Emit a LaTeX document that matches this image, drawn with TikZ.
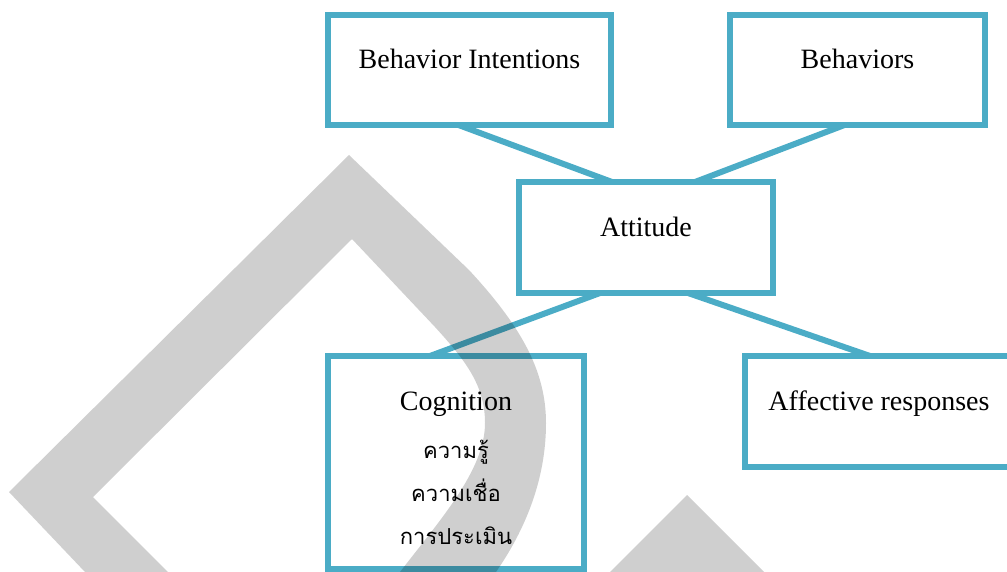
\documentclass[tikz,border=0pt]{standalone}
\usepackage{fontspec}
\setmainfont{Liberation Serif}
\newfontfamily\thaifont[Script=Thai]{Loma}
\definecolor{frameteal}{HTML}{4BACC6}
\tikzset{
    box/.style={draw=frameteal, line width=6pt, rectangle, outer sep=0pt, minimum height=110pt}, % the frames
    link/.style={draw=frameteal, line width=6pt}, % the lines between frames
    word/.style={font=\fontsize{28}{30}\selectfont, anchor=base, inner sep=0pt},
    thaiword/.style={font=\fontsize{22}{24}\thaifont, anchor=base, inner sep=0pt},
    wmark/.style={fill=black, fill opacity=0.19}, % grey watermark on top
}

\begin{document}
\begin{tikzpicture}[x=1pt, y=-1pt]
    \useasboundingbox (0,0) rectangle (1007,572);
    \clip (0,0) rectangle (1007,572);

    \node[box, minimum width=283pt] (bi)  at (469.5,70)  {};
    \node[box, minimum width=255pt] (beh) at (857.5,70)  {};
    \node[box, minimum width=254pt, minimum height=111pt] (att) at (646,237.5) {};
    \node[box, minimum width=256pt, minimum height=213pt] (cog) at (456,462.5) {};
    \node[box, minimum width=268pt, minimum height=111pt] (aff) at (879,411.5) {};

    \node[word] (bi-t)  at ([yshift=-54pt]bi.north)  {Behavior Intentions};
    \node[word] (beh-t) at ([yshift=-54pt]beh.north) {Behaviors};
    \node[word] (att-t) at ([yshift=-55pt]att.north) {Attitude};
    \node[word] (cog-t) at ([yshift=-54pt]cog.north) {Cognition};
    \node[word] (aff-t) at ([yshift=-54pt]aff.north) {Affective responses};
    \node[thaiword] (cog-a) at ([yshift=-102pt]cog.north) {ความรู้};
    \node[thaiword] (cog-b) at ([yshift=-145pt]cog.north) {ความเชื่อ};
    \node[thaiword] (cog-c) at ([yshift=-188pt]cog.north) {การประเมิน};

    \draw[link] ([xshift=-11pt]bi.south)  -- ([xshift=-34pt]att.north);
    \draw[link] ([xshift=-13pt]beh.south) -- ([xshift=49pt]att.north);
    \draw[link] ([xshift=-46pt]att.south) -- ([xshift=-26pt]cog.north);
    \draw[link] ([xshift=42pt]att.south)  -- ([xshift=-9pt]aff.north);

    % watermark
    \fill[wmark] (85,572) -- (9,492) -- (349,155) -- (469,270)
        .. controls (520,325) and (546,370) .. (546,423)
        .. controls (546,480) and (525,530) .. (496,572) -- (400,572)
        .. controls (440,520) and (485,470) .. (485,423)
        .. controls (485,385) and (465,360) .. (435,327)
        -- (352,239) -- (93,497) -- (168,572) -- cycle;
    \fill[wmark] (610,572) -- (687,495) -- (764,572) -- cycle;
\end{tikzpicture}
\end{document}
